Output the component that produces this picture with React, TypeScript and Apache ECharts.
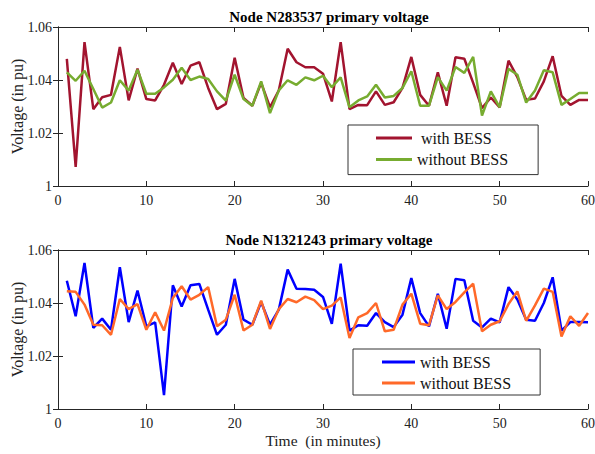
import React, { useEffect, useRef } from "react";
import * as echarts from "echarts";

const minutes = [
  1, 2, 3, 4, 5, 6, 7, 8, 9, 10, 11, 12, 13, 14, 15, 16, 17, 18, 19, 20,
  21, 22, 23, 24, 25, 26, 27, 28, 29, 30, 31, 32, 33, 34, 35, 36, 37, 38, 39, 40,
  41, 42, 43, 44, 45, 46, 47, 48, 49, 50, 51, 52, 53, 54, 55, 56, 57, 58, 59, 60,
];

const n1WithBess = [
  1.048, 1.0072, 1.0543, 1.029, 1.0335, 1.0344, 1.0525, 1.0323, 1.0443, 1.0328,
  1.0323, 1.0382, 1.0465, 1.0385, 1.0454, 1.0467, 1.037, 1.029, 1.031, 1.0484,
  1.0332, 1.0303, 1.0389, 1.0297, 1.0361, 1.0518, 1.0467, 1.0448, 1.0448, 1.0424,
  1.0319, 1.0543, 1.029, 1.0306, 1.0305, 1.0357, 1.0306, 1.0316, 1.037, 1.0487,
  1.0344, 1.0303, 1.0429, 1.0303, 1.0486, 1.048, 1.0389, 1.0294, 1.0334, 1.0297,
  1.0473, 1.0411, 1.0325, 1.033, 1.0395, 1.049, 1.034, 1.0306, 1.0325, 1.0325,
];
const n1WithoutBess = [
  1.0429, 1.0397, 1.0435, 1.0366, 1.0296, 1.0315, 1.0399, 1.036, 1.0439, 1.0348,
  1.0348, 1.0372, 1.0401, 1.0446, 1.04, 1.0413, 1.0404, 1.0357, 1.0322, 1.042,
  1.0328, 1.0303, 1.0395, 1.0275, 1.0361, 1.0399, 1.0382, 1.041, 1.0399, 1.0416,
  1.0373, 1.041, 1.0297, 1.0323, 1.0338, 1.0382, 1.0334, 1.034, 1.037, 1.0433,
  1.0303, 1.0303, 1.0411, 1.036, 1.0449, 1.0427, 1.0487, 1.0266, 1.0357, 1.0297,
  1.0442, 1.042, 1.0315, 1.036, 1.0437, 1.0429, 1.0306, 1.0328, 1.0351, 1.0351,
];
const n2WithBess = [
  1.0484, 1.035, 1.0551, 1.0306, 1.0341, 1.0299, 1.0535, 1.0328, 1.0447, 1.0312,
  1.0327, 1.0052, 1.0467, 1.0387, 1.0467, 1.0472, 1.0375, 1.028, 1.0318, 1.0491,
  1.0337, 1.0318, 1.0404, 1.0318, 1.0375, 1.0526, 1.0454, 1.0453, 1.045, 1.0423,
  1.0321, 1.0548, 1.0296, 1.0316, 1.0314, 1.0362, 1.0328, 1.0309, 1.0356, 1.0494,
  1.0362, 1.0312, 1.0435, 1.0303, 1.0491, 1.0486, 1.0333, 1.0308, 1.0341, 1.0327,
  1.046, 1.0413, 1.0337, 1.0333, 1.04, 1.0497, 1.0296, 1.0328, 1.0328, 1.0327,
];
const n2WithoutBess = [
  1.0444, 1.0442, 1.0394, 1.0318, 1.0316, 1.028, 1.0415, 1.0377, 1.0396, 1.0299,
  1.0365, 1.0296, 1.0419, 1.0463, 1.0413, 1.0431, 1.046, 1.0312, 1.0337, 1.0431,
  1.0296, 1.0318, 1.0409, 1.0302, 1.0377, 1.0415, 1.0403, 1.0424, 1.0411, 1.0377,
  1.039, 1.0421, 1.0268, 1.0346, 1.0362, 1.04, 1.0293, 1.0299, 1.0394, 1.0435,
  1.0322, 1.0316, 1.0429, 1.0377, 1.0404, 1.044, 1.0473, 1.0293, 1.0318, 1.0331,
  1.0396, 1.0444, 1.0333, 1.0391, 1.0454, 1.0442, 1.0274, 1.035, 1.0314, 1.0362,
];

const titles = ["Node N283537 primary voltage", "Node N1321243 primary voltage"];
const seriesKeys = ["n1_with", "n1_without", "n2_with", "n2_without"];
const legendTexts = [" with BESS", "without BESS", "with BESS", "without BESS"];
const yLabel = "Voltage (in pu)";
const xLabel = "Time  (in minutes)";

const FONT = "Liberation Serif";
const AXIS_COLOR = "#262626";

export default function App() {
  const ref = useRef<HTMLDivElement>(null);
  useEffect(() => {
    if (!ref.current) return;
    const chart = echarts.init(ref.current, undefined, { renderer: "svg" });
    const grids = [
      { left: 58, top: 27, width: 530, height: 159, containLabel: false, outerBoundsMode: "none" },
      { left: 58, top: 250, width: 530, height: 159, containLabel: false, outerBoundsMode: "none" },
    ];
    const pair = (arr: number[]) => minutes.map((m, i) => [m, arr[i]]);
    const xAxes: any[] = [];
    const yAxes: any[] = [];
    [0, 1].forEach((g) => {
      xAxes.push({
        type: "value",
        gridIndex: g,
        min: 0,
        max: 60,
        interval: 10,
        position: "bottom",
        axisLine: { show: true, lineStyle: { color: AXIS_COLOR, width: 1 } },
        axisTick: { show: true, inside: true, length: 5, lineStyle: { color: AXIS_COLOR } },
        axisLabel: { fontFamily: FONT, fontSize: 14, color: "#222", margin: 7 },
        splitLine: { show: false },
        name: g === 1 ? xLabel : "",
        nameLocation: "middle",
        nameGap: 23,
        nameTextStyle: { fontFamily: FONT, fontSize: 15.5, color: "#222" },
      });
      xAxes.push({
        type: "value",
        gridIndex: g,
        min: 0,
        max: 60,
        interval: 10,
        position: "top",
        axisLine: { show: true, lineStyle: { color: AXIS_COLOR, width: 1 } },
        axisTick: { show: true, inside: true, length: 5, lineStyle: { color: AXIS_COLOR } },
        axisLabel: { show: false },
        splitLine: { show: false },
      });
      yAxes.push({
        type: "value",
        gridIndex: g,
        min: 1,
        max: 1.06,
        interval: 0.02,
        position: "left",
        axisLine: { show: true, lineStyle: { color: AXIS_COLOR, width: 1 } },
        axisTick: { show: true, inside: true, length: 5, lineStyle: { color: AXIS_COLOR } },
        axisLabel: {
          fontFamily: FONT,
          fontSize: 14,
          color: "#222",
          margin: 6,
          formatter: (v: number) => (Math.abs(v - 1) < 1e-9 ? "1" : v.toFixed(2)),
        },
        splitLine: { show: false },
        name: yLabel,
        nameLocation: "middle",
        nameGap: 33,
        nameMoveOverlap: false,
        nameTextStyle: { fontFamily: FONT, fontSize: 16, color: "#222" },
      });
      yAxes.push({
        type: "value",
        gridIndex: g,
        min: 1,
        max: 1.06,
        interval: 0.02,
        position: "right",
        axisLine: { show: true, lineStyle: { color: AXIS_COLOR, width: 1 } },
        axisTick: { show: true, inside: true, length: 5, lineStyle: { color: AXIS_COLOR } },
        axisLabel: { show: false },
        splitLine: { show: false },
      });
    });
    const line = (name: string, data: number[], color: string, g: number) => ({
      type: "line",
      name,
      xAxisIndex: g * 2,
      yAxisIndex: g * 2,
      data: pair(data),
      showSymbol: false,
      symbol: "none",
      lineStyle: { color, width: 2.5 },
      itemStyle: { color },
      z: 3,
    });
    const legendFormatter = (name: string) => legendTexts[seriesKeys.indexOf(name)];
    const legendCommon = {
      orient: "vertical",
      icon: "rect",
      itemHeight: 3,
      backgroundColor: "#fff",
      borderColor: "#333",
      borderWidth: 1,
      formatter: legendFormatter,
      textStyle: { fontFamily: FONT, fontSize: 16, color: "#111", lineHeight: 16 },
    };
    chart.setOption({
      animation: false,
      backgroundColor: "#fff",
      title: [
        {
          text: titles[0],
          left: 324,
          textAlign: "center",
          top: 4,
          textStyle: { fontFamily: FONT, fontSize: 15, fontWeight: "bold", color: "#000" },
        },
        {
          text: titles[1],
          left: 324,
          textAlign: "center",
          top: 227,
          textStyle: { fontFamily: FONT, fontSize: 15, fontWeight: "bold", color: "#000" },
        },
      ],
      grid: grids,
      xAxis: xAxes,
      yAxis: yAxes,
      legend: [
        {
          ...legendCommon,
          data: [seriesKeys[0], seriesKeys[1]],
          left: 348,
          top: 125,
          itemWidth: 36,
          itemGap: 5.6,
          padding: [5, 30, 7, 28],
        },
        {
          ...legendCommon,
          data: [seriesKeys[2], seriesKeys[3]],
          left: 353,
          top: 349,
          itemWidth: 33,
          itemGap: 5,
          padding: [5, 29, 4, 29],
        },
      ],
      series: [
        line(seriesKeys[0], n1WithBess, "#A2142F", 0),
        line(seriesKeys[1], n1WithoutBess, "#77AC30", 0),
        line(seriesKeys[2], n2WithBess, "#0000FF", 1),
        line(seriesKeys[3], n2WithoutBess, "#FF6929", 1),
      ],
    });
    return () => chart.dispose();
  }, []);
  return (
    <div
      ref={ref}
      style={{ position: "fixed", left: 0, top: 0, width: 595, height: 454, background: "#fff" }}
    />
  );
}
